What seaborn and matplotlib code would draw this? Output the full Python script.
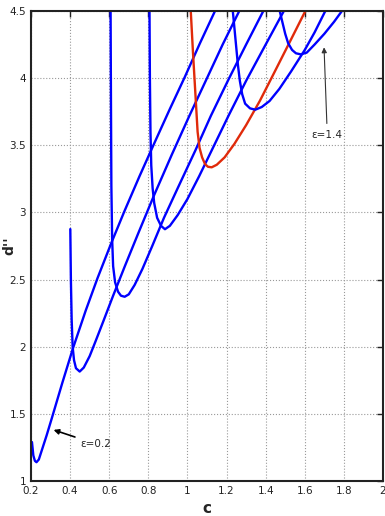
import seaborn as sns
import matplotlib.pyplot as plt
import pandas as pd
from matplotlib.ticker import FormatStrFormatter

# curves, one per epsilon
c_02 = [0.205, 0.212, 0.220, 0.228, 0.240, 0.260, 0.280, 0.307, 0.360, 0.415, 0.480, 0.540, 0.610, 0.678, 0.755, 0.832, 0.910, 0.987, 1.064, 1.141]
d_02 = [1.29, 1.19, 1.15, 1.14, 1.16, 1.25, 1.34, 1.47, 1.73, 1.99, 2.27, 2.51, 2.77, 3.01, 3.27, 3.52, 3.77, 4.01, 4.26, 4.50]

c_04 = [0.401, 0.404, 0.408, 0.413, 0.420, 0.430, 0.449, 0.470, 0.500, 0.530, 0.570, 0.620, 0.680, 0.750, 0.830, 0.920, 1.010, 1.100, 1.180, 1.265]
d_04 = [2.876, 2.50, 2.20, 2.00, 1.90, 1.84, 1.815, 1.845, 1.93, 2.04, 2.19, 2.38, 2.60, 2.85, 3.13, 3.43, 3.72, 4.00, 4.25, 4.50]

c_06 = [0.607, 0.609, 0.611, 0.615, 0.620, 0.630, 0.645, 0.660, 0.679, 0.700, 0.730, 0.770, 0.820, 0.880, 0.950, 1.040, 1.120, 1.210, 1.300, 1.388]
d_06 = [4.50, 3.80, 3.20, 2.80, 2.60, 2.48, 2.41, 2.38, 2.372, 2.39, 2.46, 2.58, 2.75, 2.96, 3.18, 3.46, 3.72, 3.99, 4.25, 4.50]

c_08 = [0.806, 0.808, 0.811, 0.815, 0.822, 0.830, 0.845, 0.865, 0.885, 0.910, 0.950, 1.000, 1.060, 1.130, 1.210, 1.300, 1.400, 1.493]
d_08 = [4.50, 4.00, 3.60, 3.35, 3.18, 3.07, 2.96, 2.90, 2.875, 2.90, 2.98, 3.10, 3.27, 3.48, 3.72, 3.98, 4.25, 4.50]

c_10 = [1.017, 1.028, 1.040, 1.052, 1.062, 1.075, 1.090, 1.105, 1.124, 1.150, 1.190, 1.240, 1.300, 1.370, 1.440, 1.520, 1.603]
d_10 = [4.50, 4.20, 3.90, 3.60, 3.48, 3.41, 3.36, 3.34, 3.336, 3.355, 3.41, 3.51, 3.65, 3.83, 4.03, 4.26, 4.50]

c_12 = [1.232, 1.245, 1.258, 1.268, 1.280, 1.295, 1.320, 1.347, 1.380, 1.420, 1.470, 1.530, 1.600, 1.650, 1.705]
d_12 = [4.50, 4.30, 4.10, 3.98, 3.88, 3.81, 3.775, 3.765, 3.785, 3.83, 3.92, 4.05, 4.21, 4.34, 4.50]

c_14 = [1.472, 1.485, 1.500, 1.515, 1.535, 1.555, 1.580, 1.610, 1.650, 1.700, 1.750, 1.790]
d_14 = [4.50, 4.42, 4.33, 4.26, 4.21, 4.185, 4.177, 4.19, 4.25, 4.33, 4.42, 4.50]

curves = [(c_02, d_02, 'blue'), (c_04, d_04, 'blue'), (c_06, d_06, 'blue'),
          (c_08, d_08, 'blue'), (c_10, d_10, '#e02a0a'), (c_12, d_12, 'blue'),
          (c_14, d_14, 'blue')]

x_ticks = [0.2, 0.4, 0.6, 0.8, 1.0, 1.2, 1.4, 1.6, 1.8, 2.0]
y_ticks = [1, 1.5, 2, 2.5, 3, 3.5, 4, 4.5]

sns.set_style('white')
plt.rcParams['font.family'] = ['Liberation Sans Narrow', 'DejaVu Sans']

fig = plt.figure(figsize=(3.85, 5.16), dpi=100)
ax = fig.add_axes([0.0805, 0.0678, 0.9143, 0.9109])

for cx, dy, col in curves:
    df = pd.DataFrame({'c': cx, 'd': dy})
    sns.lineplot(data=df, x='c', y='d', sort=False, estimator=None,
                 color=col, lw=1.7, ax=ax)

ax.set_xlim(0.2, 2)
ax.set_ylim(1, 4.5)
ax.set_xticks(x_ticks)
ax.set_yticks(y_ticks)
ax.xaxis.set_major_formatter(FormatStrFormatter('%g'))
ax.yaxis.set_major_formatter(FormatStrFormatter('%g'))
ax.grid(True, linestyle=':', color='#999999', lw=0.8)
ax.tick_params(direction='in', length=4, width=1, labelsize=7.5,
               top=True, right=True, colors='#222222')
for s in ax.spines.values():
    s.set_color('#222222')
    s.set_linewidth(1.5)

ax.set_xlabel('c', fontsize=11, fontweight='bold')
ax.set_ylabel("d''", fontsize=10, fontweight='bold')
ax.yaxis.set_label_coords(-0.042, 0.5)

ax.annotate('ε=0.2', xy=(0.302, 1.387), xytext=(0.455, 1.275),
            fontsize=7.5, ha='left', va='center',
            arrowprops=dict(arrowstyle='-|>', color='black', lw=1.2))
ax.annotate('ε=1.4', xy=(1.698, 4.25), xytext=(1.715, 3.58),
            fontsize=7.5, ha='center', va='center',
            arrowprops=dict(arrowstyle='-|>', color='#333333', lw=0.8))

fig.savefig('out.png', dpi=100)
